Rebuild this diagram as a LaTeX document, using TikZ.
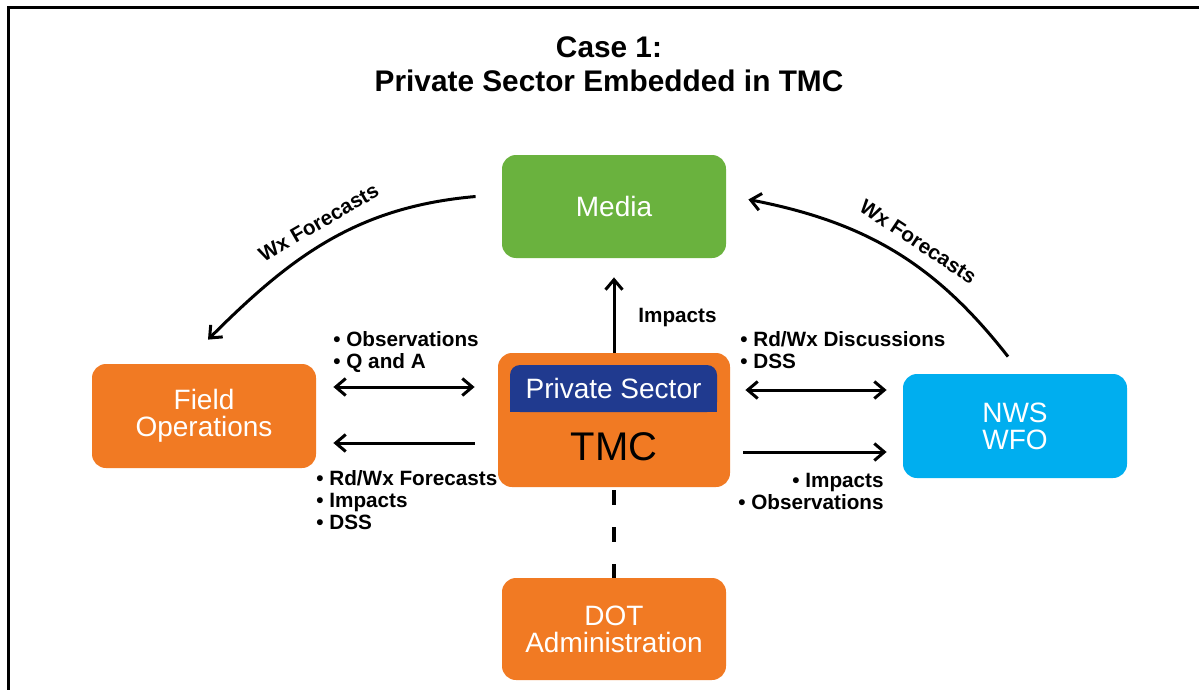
\documentclass[tikz,border=0pt]{standalone}
\usepackage{fontspec}
\setmainfont{Liberation Sans}
\usetikzlibrary{arrows.meta,positioning}
\definecolor{tmcorange}{HTML}{F17A23}
\definecolor{mediagreen}{HTML}{6AB23E}
\definecolor{nwscyan}{HTML}{00AEEF}
\definecolor{sectorblue}{HTML}{203A8F}

\begin{document}
\begin{tikzpicture}[x=0.5pt,y=-0.5pt,node distance=2cm,on grid,
  box/.style={rounded corners=7pt,minimum width=112pt,minimum height=52pt,
    text=white,align=center,font=\fontsize{14}{13.5}\selectfont},
  note/.style={font=\fontsize{10.35}{10.9}\selectfont\bfseries,inner sep=0pt},
  flow/.style={line width=1.5pt,-{Straight Barb[length=5pt,width=8.5pt]}},
  both/.style={line width=1.5pt,{Straight Barb[length=5pt,width=8.5pt]}-{Straight Barb[length=5pt,width=8.5pt]}}]
\useasboundingbox (0,0) rectangle (1199,690);
\draw[line width=1.5pt] (8,8) rectangle (1230,720);

\node[font=\fontsize{14.9}{17}\selectfont\bfseries,align=center] (title) at (609,64) {Case 1:\\Private Sector Embedded in TMC};

% boxes
\node[box,fill=tmcorange,minimum width=116pt,minimum height=67pt] (tmc) at (614,420) {};
\node[box,fill=sectorblue,rounded corners=5pt,minimum width=103.5pt,minimum height=23.5pt] (band) at (613.5,388.5) {};
\fill[sectorblue] (band.west) rectangle (band.south east);
\node[text=white,font=\fontsize{14}{14}\selectfont] (sector) at (band) {Private Sector};
\node[font=\fontsize{20}{20}\selectfont] (tmctext) [below=13.5pt of tmc] {TMC};
\node[box,fill=mediagreen,minimum height=51.5pt] (media) [above=106.75pt of tmc] {Media};
\node[box,fill=tmcorange] (field) [left=205pt of tmc,yshift=2pt] {Field\\Operations};
\node[box,fill=nwscyan] (nws) [right=200.5pt of tmc,yshift=-3pt] {NWS\\WFO};
\node[box,fill=tmcorange,minimum height=51pt] (dot) [below=104.5pt of tmc] {DOT\\Administration};

% connectors
\draw[flow,shorten >=9.5pt] (tmc) -- (media);
\draw[line width=2pt,dash pattern=on 7.5pt off 11pt,shorten <=1.5pt] (tmc) -- (dot);
\draw[both,shorten <=8.5pt,shorten >=11.5pt] ([yshift=14.5pt]field.east) -- ([yshift=16.5pt]tmc.west);
\draw[flow,shorten <=11.5pt,shorten >=8.5pt] ([yshift=-11.5pt]tmc.west) -- ([yshift=-13.5pt]field.east);
\draw[both,shorten <=7.5pt,shorten >=8pt] ([yshift=15pt]tmc.east) -- ([yshift=18pt]nws.west);
\draw[flow,shorten <=6.5pt,shorten >=8pt] ([yshift=-16pt]tmc.east) -- ([yshift=-13pt]nws.west);
\draw[flow] ([xshift=-13pt,yshift=5pt]media.west) to[out=185,in=45]
  node[note,sloped,above=6pt,pos=0.5] (wxleft) {Wx Forecasts} ([xshift=2pt,yshift=12pt]field.north);
\draw[flow] ([xshift=-3.5pt,yshift=8.5pt]nws.north) to[out=128,in=-11]
  node[note,sloped,above=6pt,pos=0.45] (wxright) {Wx Forecasts} ([xshift=11pt,yshift=3.5pt]media.east);

% labels
\node[note,anchor=west] (impnote) at (638,318) {Impacts};
\node[note,anchor=west,align=left] (obsnote) at (333,352) {• Observations\\• Q and A};
\node[note,anchor=west,align=left] (fcstnote) at (316,500) {• Rd/Wx Forecasts\\• Impacts\\• DSS};
\node[note,anchor=west,align=left] (discnote) at (740,350) {• Rd/Wx Discussions\\• DSS};
\node[note,anchor=east,align=right] (nwsnote) at (884,491.5) {• Impacts\\• Observations};
\end{tikzpicture}
\end{document}
